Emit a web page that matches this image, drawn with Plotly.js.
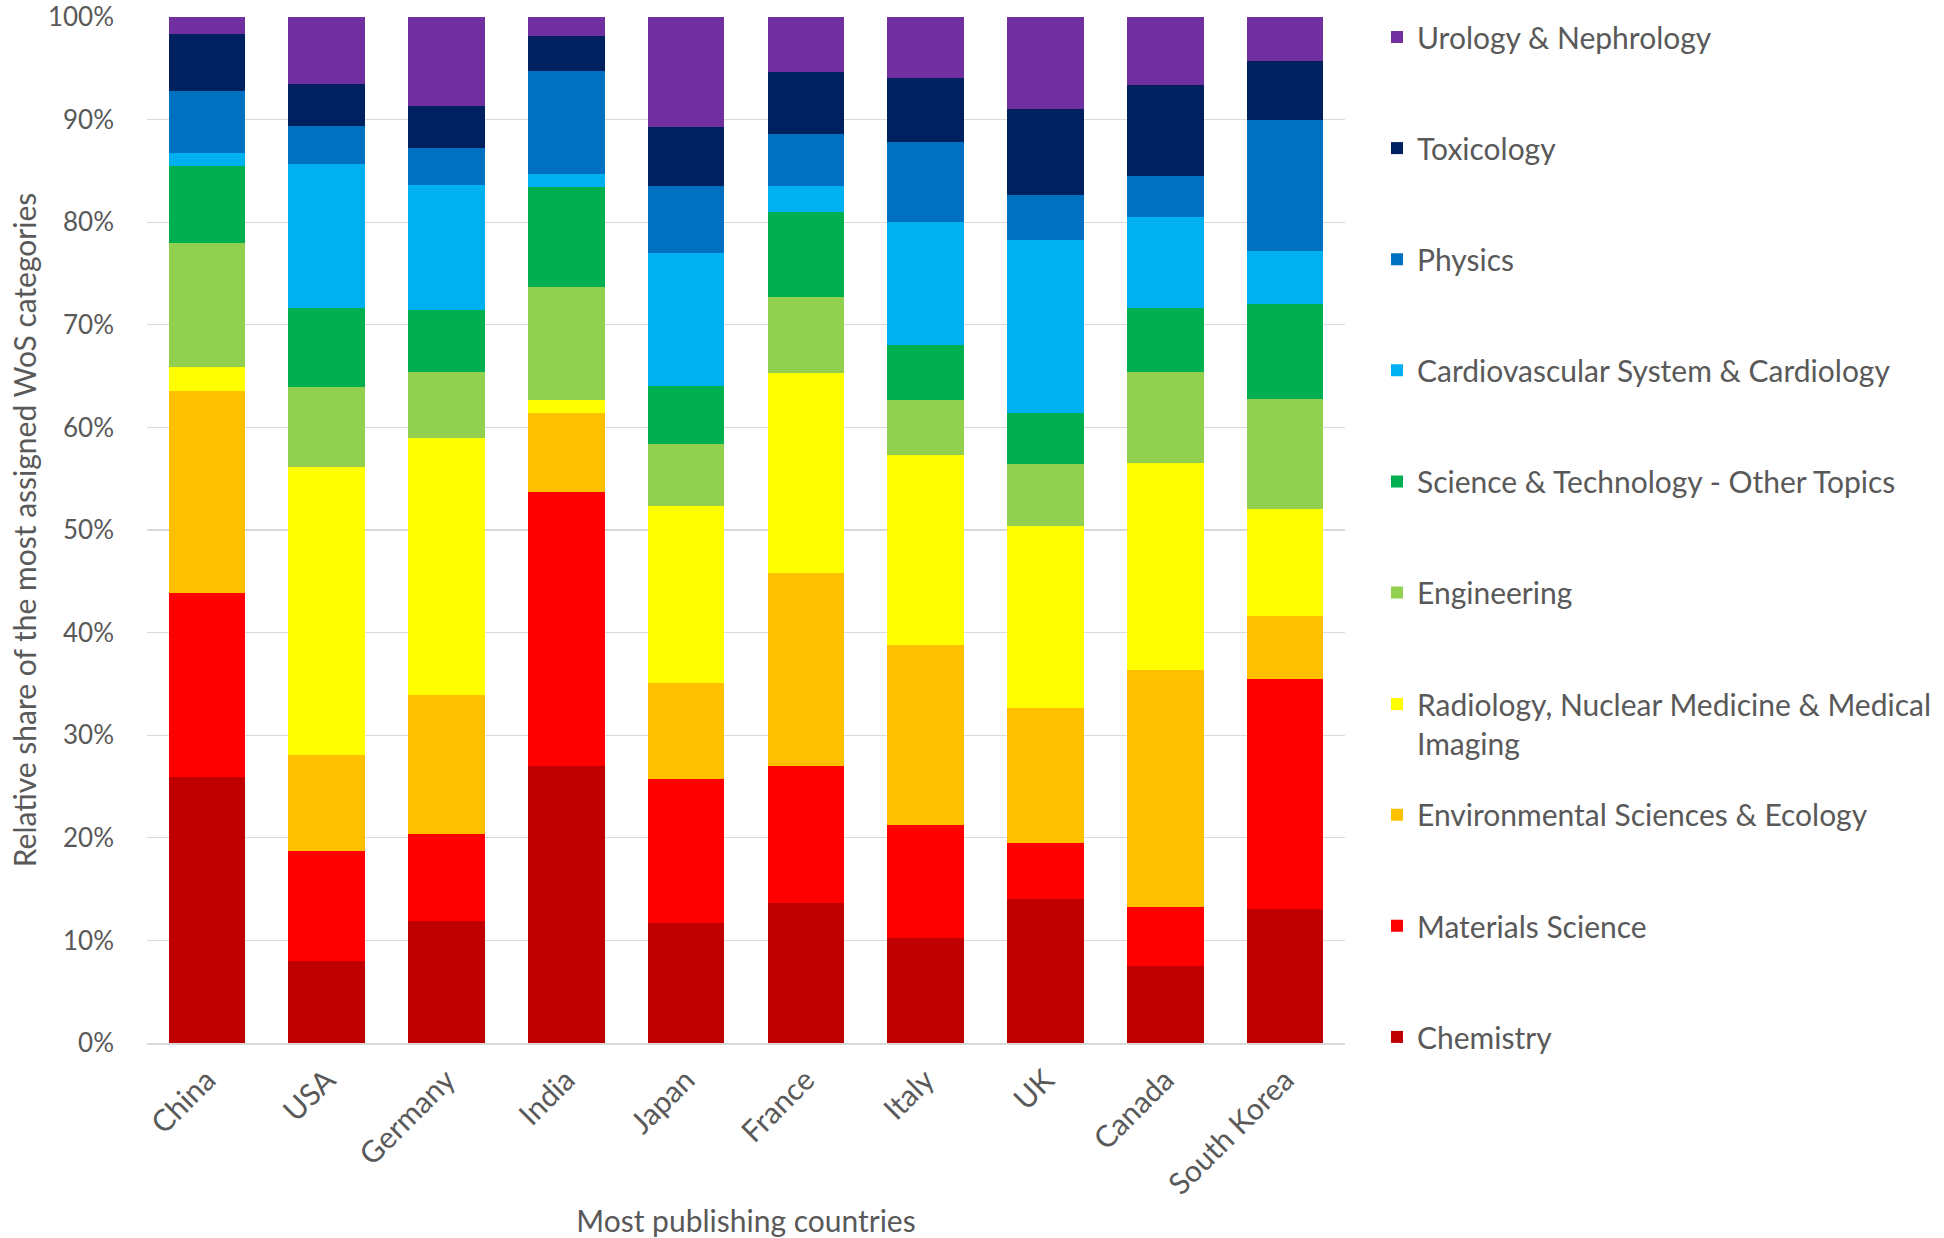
<!DOCTYPE html>
<html>
<head>
<meta charset="utf-8">
<script src="https://cdn.plot.ly/plotly-3.0.1.min.js"></script>
<style>
  html, body { margin: 0; padding: 0; background: #fff; }
  #chart { width: 1944px; height: 1238px; }
</style>
</head>
<body>
<div id="chart"></div>
<script>
// Data ------------------------------------------------------------------------
const countries = ['China', 'USA', 'Germany', 'India', 'Japan', 'France', 'Italy', 'UK', 'Canada', 'South Korea']

// share (%) of each WoS category per country, bottom of the stack first
const chemistry = [25.9, 8.0, 11.9, 27.0, 11.7, 13.6, 10.2, 14.0, 7.5, 13.1]
const materials = [18.0, 10.7, 8.5, 26.7, 14.0, 13.4, 11.0, 5.5, 5.8, 22.4]
const environmental = [19.6, 9.4, 13.5, 7.7, 9.4, 18.8, 17.6, 13.2, 23.1, 6.1]
const radiology = [2.4, 28.0, 25.1, 1.3, 17.2, 19.5, 18.5, 17.7, 20.1, 10.4]
const engineering = [12.1, 7.8, 6.4, 11.0, 6.1, 7.4, 5.4, 6.0, 8.9, 10.8]
const sciTech = [7.5, 7.7, 6.0, 9.7, 5.6, 8.3, 5.3, 5.0, 6.2, 9.2]
const cardio = [1.2, 14.1, 12.2, 1.3, 13.0, 2.5, 12.0, 16.9, 8.9, 5.2]
const physics = [6.1, 3.7, 3.6, 10.0, 6.5, 5.1, 7.8, 4.4, 4.0, 12.8]
const toxicology = [5.5, 4.1, 4.1, 3.4, 5.8, 6.0, 6.3, 8.3, 8.9, 5.7]
const urology = [1.7, 6.5, 8.7, 1.9, 10.7, 5.4, 5.9, 9.0, 6.6, 4.3]

const categoryNames = [
  'Chemistry',
  'Materials Science',
  'Environmental Sciences & Ecology',
  'Radiology, Nuclear Medicine & Medical<br>Imaging',
  'Engineering',
  'Science & Technology - Other Topics',
  'Cardiovascular System & Cardiology',
  'Physics',
  'Toxicology',
  'Urology & Nephrology'
]
const categoryValues = [chemistry, materials, environmental, radiology, engineering,
  sciTech, cardio, physics, toxicology, urology]
const categoryColours = ['#C00000', '#FF0000', '#FFC000', '#FFFF00', '#92D050',
  '#00B050', '#00B0F0', '#0070C0', '#002060', '#7030A0']

// Layout helpers --------------------------------------------------------------
const W = 1944
const H = 1238
const plotLeft = 147
const plotRight = 1345
const plotTop = 17
const plotBottom = 1043
const font = { family: 'Lato, "Open Sans", sans-serif', size: 30, color: '#595959' }

// one legend per entry so the entries sit evenly spaced like the original
const legendKey = i => (i === 0 ? 'legend' : 'legend' + (i + 1))
const legendTopCentre = 37
const legendStep = 111.1
const legends = {}
categoryNames.forEach((name, i) => {
  const rank = categoryNames.length - 1 - i // Urology at the top
  let cy = legendTopCentre + rank * legendStep
  if (name.includes('<br>')) cy += 20
  legends[legendKey(i)] = {
    x: (1377 - plotLeft) / (plotRight - plotLeft),
    xanchor: 'left',
    y: (plotBottom - cy) / (plotBottom - plotTop),
    yanchor: 'middle',
    valign: 'top',
    bgcolor: 'rgba(0,0,0,0)',
    font: { ...font }
  }
})

const traces = categoryNames.map((name, i) => ({
  type: 'bar',
  name: name,
  x: countries,
  y: categoryValues[i],
  marker: { color: categoryColours[i], line: { width: 0 } },
  legend: legendKey(i),
  hoverinfo: 'x+y+name'
}))

const layout = {
  width: W,
  height: H,
  font: font,
  paper_bgcolor: '#ffffff',
  plot_bgcolor: '#ffffff',
  barmode: 'stack',
  bargap: 0.36,
  showlegend: true,
  margin: { l: plotLeft, r: W - plotRight, t: plotTop, b: H - plotBottom, autoexpand: false },
  xaxis: {
    tickangle: -45,
    showline: true,
    linecolor: '#d9d9d9',
    linewidth: 1.5,
    ticks: '',
    ticklabelstandoff: 6,
    tickfont: { ...font },
    title: { text: 'Most publishing countries', font: { ...font }, standoff: 12 },
    automargin: false
  },
  yaxis: {
    range: [0, 100],
    dtick: 10,
    ticksuffix: '%',
    showgrid: true,
    gridcolor: '#d9d9d9',
    gridwidth: 1.2,
    zeroline: false,
    ticks: '',
    ticklabelstandoff: 32,
    ticklabeloverflow: 'allow',
    tickfont: { ...font, size: 26 },
    title: { text: 'Relative share of the most assigned WoS categories', font: { ...font }, standoff: 2 },
    automargin: false
  },
  ...legends
}

Plotly.newPlot('chart', traces, layout, { displayModeBar: false, staticPlot: true })
</script>
</body>
</html>
